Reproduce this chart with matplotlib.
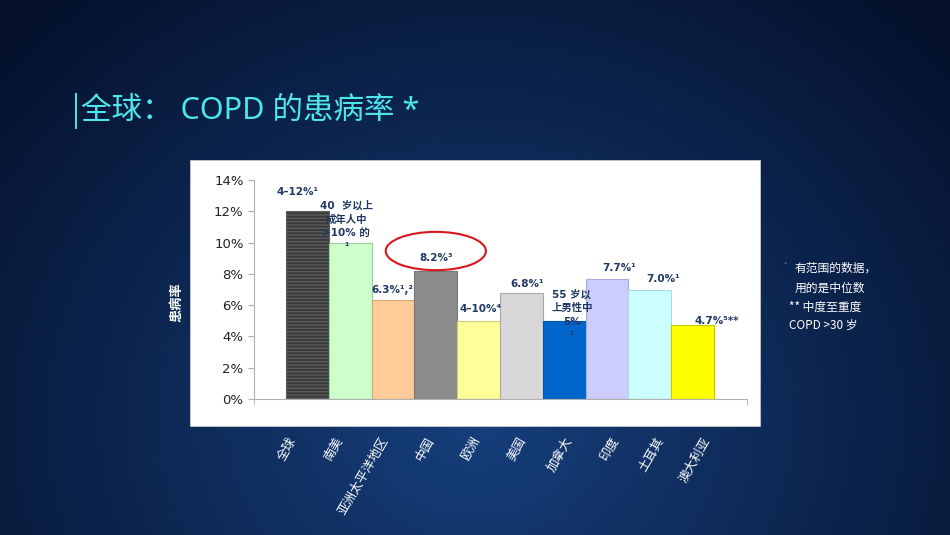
import numpy as np
import matplotlib
matplotlib.use("Agg")
import matplotlib.pyplot as plt
from matplotlib.patches import Ellipse, Rectangle
from matplotlib.lines import Line2D
from matplotlib.ticker import PercentFormatter

plt.rcParams["font.family"] = ["Noto Sans CJK SC", "DejaVu Sans"]
plt.rcParams["hatch.linewidth"] = 1.0

# data
regions = ["全球", "南美", "亚洲太平洋地区", "中国", "欧洲", "美国", "加拿大", "印度", "土耳其", "澳大利亚"]
prevalence = [12.0, 10.0, 6.3, 8.2, 5.0, 6.8, 5.0, 7.7, 7.0, 4.7]
bar_labels = ["4–12%¹", "40  岁以上\n成年人中\n>10% 的\n¹", "6.3%¹,²", "8.2%³", "4–10%⁴",
              "6.8%¹", "55 岁以\n上男性中\n5%\n¹", "7.7%¹", "7.0%¹", "4.7%⁵**"]
highlight = "中国"
title = "全球： COPD 的患病率 *"
ylabel = "患病率"
notes = ["有范围的数据，", "用的是中位数", "** 中度至重度", "COPD >30 岁"]

# style
bar_colors = ["#3a3a3a", "#ccffcc", "#ffcc99", "#8c8c8c", "#ffff99",
              "#d9d7da", "#0066cc", "#ccccff", "#ccffff", "#ffff00"]
bar_edges = ["#5c5c5c", "#99cc99", "#d9a877", "#777777", "#cccc77",
             "#a9a7aa", "#0055aa", "#a9a9dd", "#a9dddd", "#c8c800"]
# label offsets from bar top, points (dx, dy)
label_offsets = [(-6.8, 13.9), (-2.9, 12.0), (-0.7, 7.6), (0, 9.1), (1.4, 8.5),
                 (4.3, 6.5), (5.5, 4.2), (8.6, 7.6), (9.4, 7.6), (17.3, 3.2)]
label_color = "#1f3864"

W, H = 950, 535
fig = plt.figure(figsize=(W / 100, H / 100), dpi=100)

# background (pixel coordinates)
bg = fig.add_axes([0, 0, 1, 1])
yy, xx = np.mgrid[0:H, 0:W]
r = np.clip(np.hypot((xx - 475) / 640, (yy - 420) / 560), 0, 1)
inner = np.array([0x16, 0x3f, 0x7c]) / 255
outer = np.array([0x05, 0x11, 0x2c]) / 255
bg.imshow(inner + (outer - inner) * r[..., None], extent=[0, W, H, 0], aspect="auto")
bg.set_xlim(0, W)
bg.set_ylim(H, 0)
bg.axis("off")
bg.add_patch(Rectangle((190, 160), 570, 266, facecolor="white", edgecolor="#c8c8c8", lw=0.6))

# title
bg.add_line(Line2D([76, 76], [94, 128], color="#4ee6ec", lw=1.4))
bg.text(81, 111, title, color="#4ee6ec", fontsize=22, va="center", ha="left",
        family=["Noto Sans", "Noto Sans CJK SC"])

# notes on the right
bg.text(784, 266, "*", color="#6f7f9f", fontsize=5, va="center")
note_xy = [(795, 268), (795, 288), (789, 307), (789, 325)]
for (nx, ny), line in zip(note_xy, notes):
    bg.text(nx, ny, line, color="white", fontsize=8.5, va="center", ha="left")

bg.text(177, 302, ylabel, color="white", fontsize=9.5, fontweight="bold",
        rotation=90, va="center", ha="center")

# chart
ax = fig.add_axes([254 / W, 1 - 399 / H, (747 - 254) / W, (399 - 180) / H])
ax.patch.set_alpha(0)
x = np.arange(len(regions))
bars = ax.bar(x, prevalence, width=1.0, color=bar_colors, edgecolor=bar_edges, linewidth=0.8)
bars[0].set_hatch("-----")

ax.set_xlim(-1.248, 10.27)
ax.set_ylim(0, 14)
ax.set_yticks(np.arange(0, 15, 2))
ax.yaxis.set_major_formatter(PercentFormatter(100, decimals=0))
for lab in ax.get_yticklabels():
    lab.set_family("DejaVu Sans")
ax.tick_params(axis="y", length=4.5, color="#b0b0b0", pad=3, labelsize=9.5, labelcolor="#222222")

# category labels sit on a slightly wider spacing than the bars
ax.set_xticks(x * 1.075 - 0.2)
ax.set_xticklabels(regions, rotation=60, ha="right", color="white", fontsize=9)
ax.tick_params(axis="x", length=0, pad=26)
ax.set_xticks([-1.248, 10.27], minor=True)
ax.tick_params(axis="x", which="minor", length=4, color="#b0b0b0")

for s in ("top", "right"):
    ax.spines[s].set_visible(False)
for s in ("left", "bottom"):
    ax.spines[s].set_color("#b0b0b0")
    ax.spines[s].set_linewidth(0.8)

for i, (v, txt) in enumerate(zip(prevalence, bar_labels)):
    dx, dy = label_offsets[i]
    ax.annotate(txt, xy=(i, v), xytext=(dx, dy), textcoords="offset points",
                ha="center", va="center", fontsize=7.5, fontweight="bold",
                color=label_color, linespacing=1.45,
                family=["DejaVu Sans", "Noto Sans CJK SC"], annotation_clip=False)

# highlight ellipse
hi = regions.index(highlight)
ax.add_patch(Ellipse((hi, prevalence[hi] + 1.26), 2.34, 2.45, fill=False,
                     edgecolor="#d9161c", lw=1.5, clip_on=False))

fig.savefig("out.png", dpi=100)
